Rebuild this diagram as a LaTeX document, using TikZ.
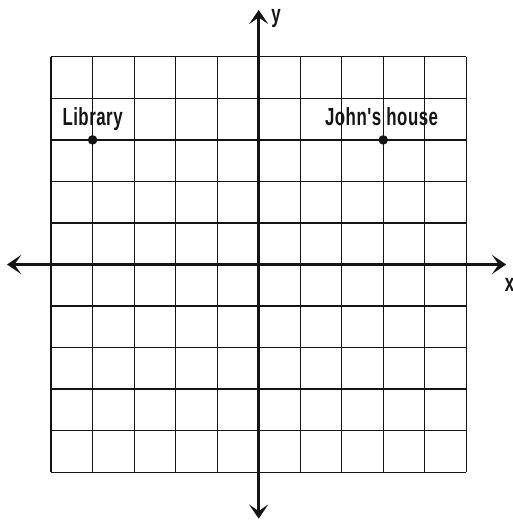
\documentclass[tikz,border=0pt]{standalone}
\usepackage{fontspec}
\usepackage{tikz}
\usetikzlibrary{arrows.meta,positioning}
\newfontfamily\placefont[FakeStretch=0.68,LetterSpace=2]{Liberation Sans Bold}
\definecolor{ink}{RGB}{20,20,20}

\begin{document}
\begin{tikzpicture}[
  gridline/.style={draw=ink,line width=.8pt},
  axis/.style={
    draw=ink,
    line width=2pt,
    {Stealth[length=3.4mm,width=4.6mm,inset=1.6mm]}-{Stealth[length=3.4mm,width=4.6mm,inset=1.6mm]}
  },
  spot/.style={
    circle,
    fill=ink,
    inner sep=0pt,
    minimum size=2.3mm
  },
  place/.style={
    font=\placefont\fontsize{17}{17}\selectfont,
    text=ink,
    anchor=base,
    inner sep=0pt
  },
  axlabel/.style={
    font=\placefont\fontsize{17}{17}\selectfont,
    text=ink,
    anchor=base west,
    inner sep=0pt
  }
]
\useasboundingbox (-6.23,-6.25) rectangle (6.11,6.37);

% grid
\draw[gridline] (-5,-5) grid (5,5);

% axes
\coordinate (xl) at (-6.06,0);
\coordinate (xr) at (5.96,0);
\coordinate (yb) at (0,-6.12);
\coordinate (yt) at (0,6.13);
\draw[axis] (xl) -- (xr);
\draw[axis] (yb) -- (yt);

\node[axlabel] (ylab) at (0.3,5.83) {y};
\node[axlabel] (xlab) at (5.92,-0.66) {x};

% places
\node[spot] (lib) at (-4,3) {};
\node[spot] (john) at (3,3) {};

\node[place] (libtxt) at ([yshift=3.4mm]lib) {Library};
\node[place] (johntxt) at ([xshift=-.4mm,yshift=3.4mm]john) {John's house};
\end{tikzpicture}
\end{document}
